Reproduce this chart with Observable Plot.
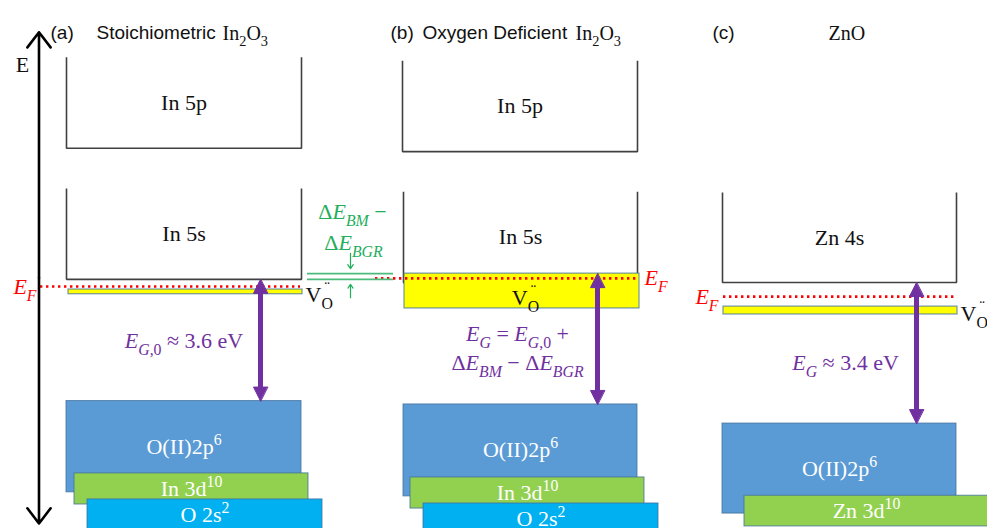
<!DOCTYPE html>
<html>
<head>
<meta charset="utf-8">
<script src="https://cdn.jsdelivr.net/npm/d3@7"></script>
<script src="https://cdn.jsdelivr.net/npm/@observablehq/plot@0.6"></script>
<style>
  html, body { margin: 0; padding: 0; background: #fff; }
  #diagram { position: relative; width: 987px; height: 528px; overflow: hidden; }
  #diagram svg { position: absolute; left: 0; top: 0; }
</style>
</head>
<body>
<div id="diagram"></div>
<script>
const W = 987, H = 528;
const SERIF = "'Liberation Serif', 'DejaVu Serif', serif";
const SANS = "'Liberation Sans', Arial, sans-serif";
const PURPLE = "#7030A0", RED = "#FF0000", GREEN = "#1fae5b";
const LABEL_SIZE = 22;

// Horizontal layout uses columns of 10 px (0 – 98.7).
// Each panel has its own energy axis in eV, valence-band maximum at 0.
const VBM = 0;
const panelIds = ["a", "b", "c"];
const windowTop = [11.85, 11.95, 10.20];
const windowBottom = [-3.77, -3.67, -2.53];

// Panel headings
const headingPanel = ["a", "b", "c"];
const headingTag = ["(a)", "(b)", "(c)"];
const headingTagX = [5.0, 39.0, 71.2];
const headingName = ["Stoichiometric", "Oxygen Deficient", ""];
const headingNameX = [9.6, 42.2, 76.0];
const headingFormula = ["In_{2}O_{3}", "In_{2}O_{3}", "ZnO"];
const headingFormulaX = [22.2, 57.5, 82.8];

// Empty (conduction) bands, drawn as open-topped boxes
const cbPanel = ["a", "a", "b", "b", "c"];
const cbName = ["In 5p", "In 5s", "In 5p", "In 5s", "Zn 4s"];
const cbLeft = [6.6, 6.6, 40.2, 40.3, 72.2];
const cbRight = [30.1, 30.1, 63.7, 63.7, 95.6];
const cbBottom = [7.48, 3.60, 7.48, 3.60, 3.40];
const cbTop = [10.17, 6.29, 10.17, 6.29, 5.57];

// Filled (valence and core) bands
const vbPanel = ["a", "a", "a", "b", "b", "b", "c", "c"];
const vbName = ["O(II)2p^{6}", "In 3d^{10}", "O 2s^{2}", "O(II)2p^{6}", "In 3d^{10}", "O 2s^{2}", "O(II)2p^{6}", "Zn 3d^{10}"];
const vbOrbital = ["O 2p", "3d", "O 2s", "O 2p", "3d", "O 2s", "O 2p", "3d"];
const vbLeft = [6.6, 7.4, 8.7, 40.3, 41.0, 42.3, 72.2, 74.4];
const vbRight = [30.1, 30.8, 32.2, 63.7, 64.4, 65.8, 95.6, 98.8];
const vbTop = [0, -2.14, -2.91, 0, -2.16, -2.93, 0, -1.74];
const vbBottom = [-2.70, -3.06, -3.85, -2.72, -3.08, -3.85, -2.17, -2.48];

// Oxygen-vacancy donor states
const voPanel = ["a", "b", "c"];
const voLeft = [6.8, 40.4, 72.3];
const voRight = [30.2, 63.9, 95.7];
const voTop = [3.30, 3.87, 2.82];
const voBottom = [3.16, 2.84, 2.63];
const voLabel = ["V_{O}^{¨}", "V_{O}^{¨}", "V_{O}^{¨}"];
const voLabelX = [30.5, 52.5, 96.0];
const voLabelE = [3.13, 3.16, 2.65];
const voLabelAnchor = ["start", "middle", "start"];

// Fermi levels
const efPanel = ["a", "b", "c"];
const efLeft = [4.0, 37.5, 72.3];
const efRight = [30.0, 63.7, 95.6];
const efEnergy = [3.39, 3.73, 3.06];
const efLabelX = [3.6, 64.4, 71.8];
const efLabelAnchor = ["end", "start", "end"];

// Band gaps (eV above the valence-band maximum)
const gapPanel = ["a", "b", "c"];
const gapX = [26.0, 59.7, 91.6];
const gapEnergy = [3.6, 3.87, 3.4];

// Band-gap annotations
const notePanel = ["a", "b", "b", "c"];
const noteText = [
  `*E*_{*G*,0} ≈ ${gapEnergy[0]} eV`,
  "*E*_{*G*} = *E*_{*G*,0} +",
  "Δ*E*_{*BM*} − Δ*E*_{*BGR*}",
  `*E*_{*G*} ≈ ${gapEnergy[2]} eV`
];
const noteX = [18.35, 51.7, 51.7, 84.5];
const noteE = [1.79, 2.10, 1.24, 1.47];

// Burstein–Moss minus band-gap renormalisation shift (panel b)
const shiftLevels = [3.87, 3.70];
const shiftLeft = 30.7, shiftRight = 39.3, shiftArrowX = 35.0;
const shiftArrowFrom = [4.47, 3.16];
const shiftArrowTo = [4.02, 3.55];
const shiftText = ["Δ*E*_{*BM*} −", "Δ*E*_{*BGR*}"];
const shiftTextX = [35.2, 35.3];
const shiftTextE = [5.68, 4.79];

// Energy axis (panel a)
const axisX = 3.85, axisLow = -3.62, axisHigh = 10.91;
const axisLabel = "E", axisLabelX = 2.2, axisLabelE = 9.93;

const bandFill = {"O 2p": "#5B9BD5", "3d": "#92D050", "O 2s": "#00B0F0"};

// rows of a set of parallel arrays that belong to one panel
function pick(panelArr, p, fields) {
  const out = [];
  panelArr.forEach((q, j) => {
    if (q !== p) return;
    const d = {};
    for (const k in fields) d[k] = fields[k][j];
    out.push(d);
  });
  return out;
}

function textByAnchor(rows, opts) {
  return [...new Set(rows.map(d => d.anchor))].map(a =>
    Plot.text(rows.filter(d => d.anchor === a), {...opts, textAnchor: a}));
}

function layer(p) {
  const i = panelIds.indexOf(p);
  const pxPerEV = H / (windowTop[i] - windowBottom[i]);
  const marks = [];

  // conduction bands: open boxes
  const cb = pick(cbPanel, p, {name: cbName, x1: cbLeft, x2: cbRight, y1: cbBottom, y2: cbTop});
  const outline = cb.flatMap((d, k) => [
    {k, x: d.x1, y: d.y2}, {k, x: d.x1, y: d.y1}, {k, x: d.x2, y: d.y1}, {k, x: d.x2, y: d.y2}
  ]);
  marks.push(Plot.line(outline, {x: "x", y: "y", z: "k", stroke: "#404040", strokeWidth: 1.6, strokeLinejoin: "miter", strokeLinecap: "butt"}));

  // valence and core bands
  const vb = pick(vbPanel, p, {name: vbName, orbital: vbOrbital, x1: vbLeft, x2: vbRight, y1: vbBottom, y2: vbTop});
  marks.push(Plot.rect(vb, {x1: "x1", x2: "x2", y1: "y1", y2: "y2", fill: d => bandFill[d.orbital], stroke: "#41719C", strokeWidth: 1, strokeOpacity: 0.8}));

  // vacancy states
  const vo = pick(voPanel, p, {x1: voLeft, x2: voRight, y1: voBottom, y2: voTop, label: voLabel, lx: voLabelX, le: voLabelE, anchor: voLabelAnchor});
  marks.push(Plot.rect(vo, {x1: "x1", x2: "x2", y1: "y1", y2: "y2", fill: "#FFFF00", stroke: "#41719C", strokeWidth: 1.2, strokeOpacity: 0.75}));

  // Fermi level
  const ef = pick(efPanel, p, {x1: efLeft, x2: efRight, E: efEnergy, lx: efLabelX, anchor: efLabelAnchor});
  marks.push(Plot.ruleY(ef, {y: "E", x1: "x1", x2: "x2", stroke: RED, strokeWidth: 2.6, strokeDasharray: "2.4 3.6"}));

  // band-gap double arrow
  const gap = pick(gapPanel, p, {x: gapX, top: gapEnergy});
  const hl = 14 / pxPerEV, hw = 0.7;
  marks.push(Plot.ruleX(gap, {x: "x", y1: () => VBM + hl * 0.8, y2: d => d.top - hl * 0.8, stroke: PURPLE, strokeWidth: 5}));
  const heads = gap.flatMap((d, k) => [
    {k: 2 * k, x: d.x, y: d.top}, {k: 2 * k, x: d.x - hw, y: d.top - hl}, {k: 2 * k, x: d.x + hw, y: d.top - hl},
    {k: 2 * k + 1, x: d.x, y: VBM}, {k: 2 * k + 1, x: d.x - hw, y: VBM + hl}, {k: 2 * k + 1, x: d.x + hw, y: VBM + hl}
  ]);
  marks.push(Plot.line(heads, {x: "x", y: "y", z: "k", fill: PURPLE, stroke: PURPLE, strokeWidth: 1, curve: "linear-closed"}));

  // band labels
  marks.push(Plot.text(cb, {x: d => (d.x1 + d.x2) / 2, y: d => (d.y1 + d.y2) / 2, text: "name", fontFamily: SERIF, fontSize: LABEL_SIZE, fill: "#111"}));
  marks.push(Plot.text(vb, {x: d => (d.x1 + d.x2) / 2, y: d => (d.y1 + d.y2) / 2, text: "name", fontFamily: SERIF, fontSize: LABEL_SIZE, fill: "#fff"}));

  // vacancy and Fermi-level labels
  marks.push(...textByAnchor(vo, {x: "lx", y: "le", text: "label", fontFamily: SERIF, fontSize: LABEL_SIZE, fill: "#111"}));
  marks.push(...textByAnchor(ef, {x: "lx", y: "E", text: () => "*E*_{*F*}", fontFamily: SERIF, fontSize: LABEL_SIZE, fill: RED}));

  // band-gap notes
  const notes = pick(notePanel, p, {text: noteText, x: noteX, E: noteE});
  marks.push(Plot.text(notes, {x: "x", y: "E", text: "text", fontFamily: SERIF, fontSize: LABEL_SIZE, fill: PURPLE}));

  if (p === "b") {
    marks.push(Plot.ruleY(shiftLevels, {y: d => d, x1: () => shiftLeft, x2: () => shiftRight, stroke: "#4dbb7c", strokeWidth: 1.6}));
    const arrows = shiftArrowFrom.map((f, k) => ({from: f, to: shiftArrowTo[k]}));
    marks.push(Plot.arrow(arrows, {x1: () => shiftArrowX, x2: () => shiftArrowX, y1: "from", y2: "to", stroke: GREEN, strokeWidth: 1.2, headLength: 6, headAngle: 70}));
    const st = shiftText.map((t, k) => ({t, x: shiftTextX[k], E: shiftTextE[k]}));
    marks.push(Plot.text(st, {x: "x", y: "E", text: "t", fontFamily: SERIF, fontSize: LABEL_SIZE, fill: GREEN}));
  }

  if (p === "a") {
    const mid = (axisLow + axisHigh) / 2;
    const ends = [axisHigh, axisLow];
    marks.push(Plot.arrow(ends, {x1: () => axisX, x2: () => axisX, y1: () => mid, y2: d => d, stroke: "#000", strokeWidth: 2.6, headLength: 11, headAngle: 75}));
    marks.push(Plot.text([axisLabel], {x: () => axisLabelX, y: () => axisLabelE, text: d => d, fontFamily: SERIF, fontSize: LABEL_SIZE, fill: "#111"}));
  }

  // headings
  const hd = pick(headingPanel, p, {tag: headingTag, tx: headingTagX, name: headingName, nx: headingNameX, formula: headingFormula, fx: headingFormulaX});
  marks.push(Plot.text(hd, {x: "tx", text: "tag", frameAnchor: "top", dy: 25, textAnchor: "start", fontFamily: SANS, fontSize: 19, fill: "#111"}));
  marks.push(Plot.text(hd.filter(d => d.name), {x: "nx", text: "name", frameAnchor: "top", dy: 25, textAnchor: "start", fontFamily: SANS, fontSize: 19, fill: "#111"}));
  marks.push(Plot.text(hd, {x: "fx", text: "formula", frameAnchor: "top", dy: 25, textAnchor: "start", fontFamily: SERIF, fontSize: 20, fill: "#111"}));

  return Plot.plot({
    width: W, height: H, margin: 0,
    x: {domain: [0, 98.7], axis: null},
    y: {domain: [windowBottom[i], windowTop[i]], axis: null},
    color: {type: "identity"},
    style: {background: "transparent", overflow: "visible"},
    marks
  });
}

// Rich text: *italic*, _{subscript}, ^{superscript}; a superscript right after a
// subscript is stacked above it.
const NS = "http://www.w3.org/2000/svg";
function build(parent, s, italic, base) {
  let buf = "", i = 0, lastSub = null;
  const flush = () => {
    if (!buf) return;
    const ts = document.createElementNS(NS, "tspan");
    ts.setAttribute("font-style", italic ? "italic" : "normal");
    ts.textContent = buf;
    parent.appendChild(ts);
    buf = "";
    lastSub = null;
  };
  while (i < s.length) {
    const c = s[i];
    if (c === "*") { flush(); italic = !italic; i++; continue; }
    if ((c === "_" || c === "^") && s[i + 1] === "{") {
      flush();
      const end = s.indexOf("}", i);
      const inner = s.slice(i + 2, end);
      const ts = document.createElementNS(NS, "tspan");
      ts.setAttribute("font-size", (base * 0.72).toFixed(1) + "px");
      ts.setAttribute("baseline-shift", (c === "_" ? -0.3 : 0.42) * base + "px");
      parent.appendChild(ts);
      build(ts, inner, italic, base * 0.72);
      if (c === "^" && lastSub) {
        const a = lastSub.getComputedTextLength(), b = ts.getComputedTextLength();
        ts.setAttribute("dx", -(a + b) / 2);
        lastSub = null;
      } else {
        lastSub = c === "_" ? ts : null;
      }
      i = end + 1;
      continue;
    }
    buf += c;
    i++;
  }
  flush();
}

function enrich(svg) {
  for (const t of svg.querySelectorAll("text")) {
    const s = t.textContent;
    if (!/[_^*]/.test(s)) continue;
    const base = parseFloat(getComputedStyle(t).fontSize) || 20;
    t.textContent = "";
    build(t, s, false, base);
  }
}

const host = document.getElementById("diagram");
for (const p of panelIds) {
  const svg = layer(p);
  host.appendChild(svg);
  enrich(svg);
}
</script>
</body>
</html>
